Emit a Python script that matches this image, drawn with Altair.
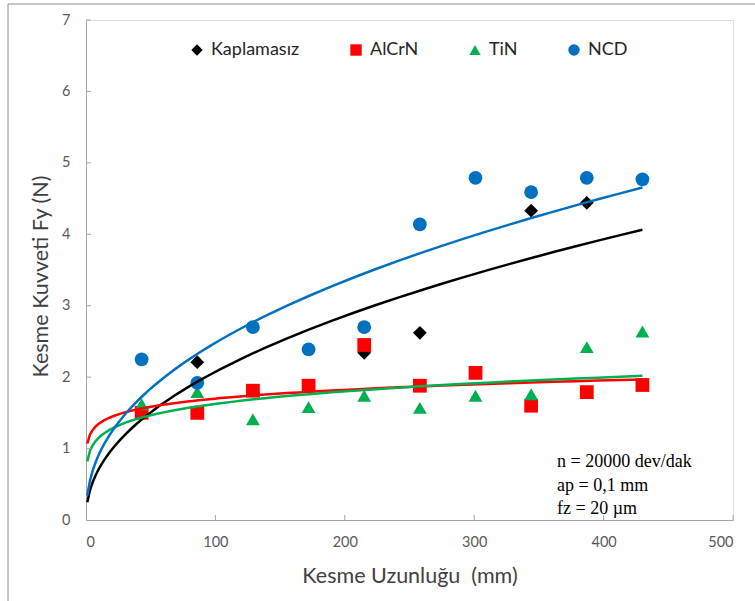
import altair as alt
import pandas as pd

# ---- data ----
series_names = ["Kaplamasız", "AlCrN", "TiN", "NCD"]
series_colors = ["#000000", "#FF0000", "#00B050", "#0070C0"]
series_shapes = ["diamond", "square", "triangle-up", "circle"]

x_kaplamasiz = [86, 215, 258, 344, 387]
y_kaplamasiz = [2.21, 2.34, 2.62, 4.33, 4.44]

x_coated = [43, 86, 129, 172, 215, 258, 301, 344, 387, 430]
y_alcrn = [1.50, 1.50, 1.81, 1.88, 2.45, 1.88, 2.06, 1.60, 1.79, 1.89]
y_tin = [1.62, 1.79, 1.41, 1.58, 1.74, 1.57, 1.74, 1.76, 2.42, 2.64]
y_ncd = [2.25, 1.92, 2.70, 2.39, 2.70, 4.14, 4.79, 4.59, 4.79, 4.77]

trend_extent = [1, 430]
x_ticks = [0, 100, 200, 300, 400, 500]
y_ticks = [0, 1, 2, 3, 4, 5, 6, 7]
note_lines = ["n = 20000 dev/dak", "ap = 0,1 mm", "fz = 20 µm"]

rows = []
for xv, yv in zip(x_kaplamasiz, y_kaplamasiz):
    rows.append({"x": xv, "y": yv, "series": "Kaplamasız", "order": 0})
for k, (name, ys) in enumerate([("AlCrN", y_alcrn), ("TiN", y_tin), ("NCD", y_ncd)]):
    for xv, yv in zip(x_coated, ys):
        rows.append({"x": xv, "y": yv, "series": name, "order": k + 1})
df = pd.DataFrame(rows)

W, H = 647, 500
FONT = "Lato"

xscale = alt.Scale(domain=[0, 500], nice=False, zero=True)
yscale = alt.Scale(domain=[0, 7], nice=False)

base = alt.Chart(df)

points = base.mark_point(filled=True, size=190, opacity=1).encode(
    x=alt.X("x:Q", scale=xscale,
            axis=alt.Axis(values=x_ticks, title="Kesme Uzunluğu\u00a0\u00a0(mm)", grid=False, ticks=False,
                          labelPadding=15, labelFontSize=14.5, labelColor="#595959", labelFont=FONT,
                          titleFont=FONT, titleFontSize=21.5, titleFontWeight="normal", titleColor="#404040",
                          titleY=62, titleBaseline="alphabetic", domainColor="#A6A6A6")),
    y=alt.Y("y:Q", scale=yscale,
            axis=alt.Axis(values=y_ticks, format="d", title="Kesme Kuvveti Fy (N)", grid=False, ticks=False,
                          labelPadding=16, labelFontSize=14.5, labelColor="#595959", labelFont=FONT,
                          titleFont=FONT, titleFontSize=21.5, titleFontWeight="normal", titleColor="#404040",
                          titleX=-39, titleY=256, titleBaseline="alphabetic", titleAngle=-90,
                          domainColor="#A6A6A6")),
    color=alt.Color("series:N", scale=alt.Scale(domain=series_names, range=series_colors),
                    legend=alt.Legend(title=None, orient="none", legendX=102, legendY=21,
                                      direction="horizontal", columns=4, symbolSize=130,
                                      labelFont=FONT, labelFontSize=18, labelColor="#262626",
                                      labelOffset=5, columnPadding=47, padding=0, symbolStrokeWidth=0)),
    shape=alt.Shape("series:N", scale=alt.Scale(domain=series_names, range=series_shapes)),
    order=alt.Order("order:Q"),
)

lines = base.transform_regression(
    "x", "y", groupby=["series"], method="pow", extent=trend_extent
).mark_line(strokeWidth=2.5).encode(
    x=alt.X("x:Q", scale=xscale),
    y=alt.Y("y:Q", scale=yscale),
    stroke=alt.Stroke("series:N", scale=alt.Scale(domain=series_names, range=series_colors), legend=None),
)

xt = alt.Chart(pd.DataFrame({"v": x_ticks[1:]})).mark_rule(color="#A6A6A6").encode(
    x=alt.X("v:Q", scale=xscale), y=alt.value(H), y2=alt.value(H - 5))
yt = alt.Chart(pd.DataFrame({"v": y_ticks[1:]})).mark_rule(color="#A6A6A6").encode(
    y=alt.Y("v:Q", scale=yscale), x=alt.value(0), x2=alt.value(5))

note = alt.Chart(pd.DataFrame({"a": [0]})).mark_text(
    align="left", baseline="alphabetic", font="Liberation Serif", fontSize=18,
    lineHeight=23.5, color="#000000").encode(
    x=alt.value(471), y=alt.value(447), text=alt.value(note_lines))

frame_l = alt.Chart(pd.DataFrame({"a": [0]})).mark_rule(color="#8C8C8C").encode(
    x=alt.value(-78), y=alt.value(-16), y2=alt.value(600))
frame_t = alt.Chart(pd.DataFrame({"a": [0]})).mark_rule(color="#8C8C8C").encode(
    x=alt.value(-78), x2=alt.value(700), y=alt.value(-16))

chart = alt.layer(points, lines, xt, yt, note, frame_l, frame_t).properties(
    width=W, height=H,
    padding={"left": 86, "top": 20, "right": 22, "bottom": 81},
    autosize=alt.AutoSizeParams(type="none"),
).configure_view(stroke="#595959", strokeWidth=1).configure(background="white")

chart.save("out.html", embed_options={"renderer": "svg", "actions": False})
